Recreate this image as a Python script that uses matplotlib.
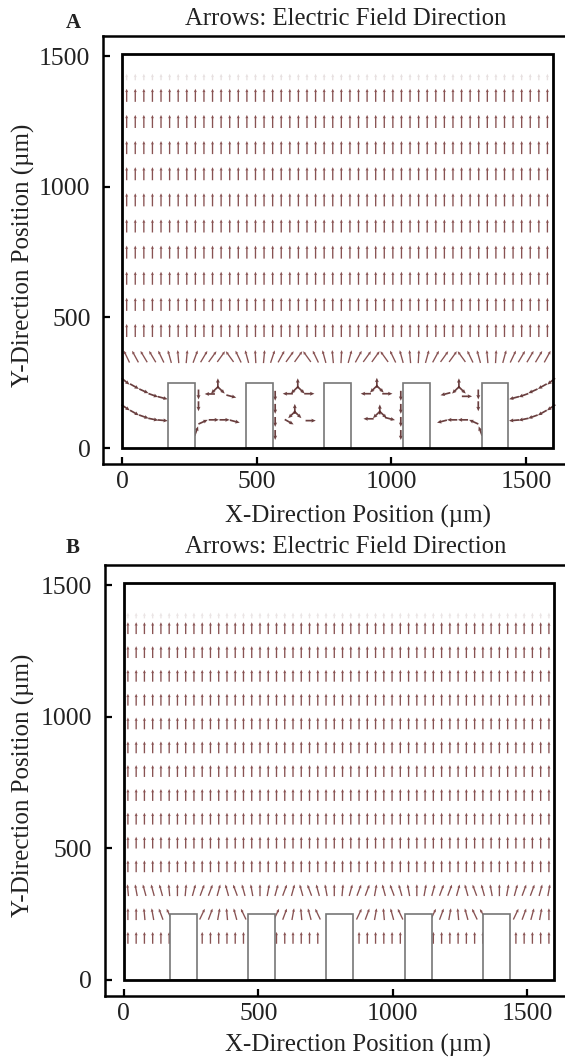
import numpy as np
import matplotlib
matplotlib.use("Agg")
import matplotlib.pyplot as plt
from matplotlib.patches import Rectangle

W, H, DPI = 565, 1057, 100
plt.rcParams['font.family'] = ['Liberation Serif', 'DejaVu Serif']

# ---------------- data ----------------
tick_values = [0, 500, 1000, 1500]
tick_labels = ['0', '500', '1000', '1500']
domain_w, domain_h = 1600, 1510
electrode_left = [171, 461, 751, 1045, 1335]
electrode_w, electrode_h = 100, 250

# Panel A : arrow grid
colsA = np.linspace(16, 1580, 50)
rowsA_vertical = [1350, 1250, 1150, 1050, 950, 850, 750, 650, 550, 450]
faint_row_A = 1420
fan_row_A = 350
fan_tilt_A = [25, 28, 30, 30, 25, 15, 5, -5, -20, -30,
              -35, -35, 35, 25, 15, 3, -5, -18, -28, -35,
              -35, 35, 25, 15, 5, -3, -15, -28, -35, -35,
              35, 25, 15, 5, -3, -15, -28, -35, -35, 35,
              25, 15, 5, -3, -15, -25, -30, -30, -30, -28]
# Panel A : arrows around the electrodes (x um, y um, angle deg)
nearA_x = [12, 45, 80, 115, 150, 12, 45, 80, 115, 150,
           283, 283, 275, 300, 340, 380, 418, 355, 343, 367, 325, 405,
           568, 568, 568, 568, 652, 640, 664, 615, 695, 641, 630, 652, 620, 700,
           946, 934, 958, 905, 985, 957, 945, 969, 915, 995, 1035, 1035, 1035, 1035,
           1323, 1323, 1331, 1306, 1266, 1226, 1188, 1251, 1239, 1263, 1201, 1281,
           1594, 1561, 1526, 1491, 1456, 1594, 1561, 1526, 1491, 1456]
nearA_y = [255, 236, 218, 202, 192, 155, 135, 120, 110, 106,
           205, 160, 65, 100, 108, 108, 102, 248, 222, 222, 207, 198,
           200, 150, 100, 50, 248, 222, 222, 208, 208, 150, 128, 128, 100, 105,
           250, 226, 226, 208, 208, 148, 128, 128, 112, 112, 200, 150, 100, 50,
           205, 160, 65, 100, 108, 108, 102, 248, 222, 222, 207, 198,
           255, 236, 218, 202, 192, 155, 135, 120, 110, 106]
nearA_ang = [-40, -30, -25, -20, -15, -35, -30, -20, -12, -5,
             -90, -90, 70, 25, 0, 0, -15, 90, 225, -45, 180, -15,
             -90, -90, -90, -90, 90, 225, -45, 180, 0, 90, 225, -45, -30, 0,
             90, 225, -45, 180, 0, 90, 225, -45, 180, -15, -90, -90, -90, -90,
             -90, -90, 110, 155, 180, 180, 195, 90, 225, -45, 195, 0,
             -140, -150, -155, -160, -165, -145, -150, -160, -168, -175]

# Panel B : arrow grid
colsB = np.linspace(15, 1580, 52)
rowsB_vertical = [1337, 1246, 1156, 1065, 975, 884, 794, 703, 613, 522, 432]
faint_row_B = 1385
fan_row_B = 341
fan_tilt_B = [5, 10, 15, 15, 15, 5, 0, -5, -15, -20,
              -20, -15, 15, 20, 15, 10, 0, -10, -15, -20,
              -15, 15, 20, 15, 10, 0, -5, -15, -20, -20,
              -10, 15, 20, 15, 10, 0, -10, -15, -20, -20,
              -15, 15, 20, 15, 10, 0, -10, -15, -20, -20,
              -15, -10]
gap_row_B_top = 250
n = np.nan
gap_tilt_B_top = [0, 0, 5, 10, 20, 25, n, n, n, -25,
                  -20, -10, 5, 15, 25, n, n, n, -25, -20,
                  -10, 5, 15, 25, n, n, n, n, -25, -20,
                  -10, 5, 15, 25, n, n, n, -25, -20, -10,
                  5, 15, 25, 30, n, n, n, -25, -20, -15,
                  -10, 0]
gap_row_B_low = 160
gap_tilt_B_low = [0, 0, 0, 0, 0, 0, n, n, n, 0,
                  0, 0, 0, 0, 0, n, n, n, 0, 0,
                  0, 0, 0, 0, n, n, n, n, 0, 0,
                  0, 0, 0, 0, n, n, n, 0, 0, 0,
                  0, 0, 0, 0, n, n, n, 0, 0, 0,
                  0, 0]

# ---------------- drawing ----------------
fig = plt.figure(figsize=(W / DPI, H / DPI), dpi=DPI)

ARROW_C = '#7b3f3f'
DARK_C = '#5a2a2a'
TEXT_C = '#222222'


def quiv(ax, xs, ys, ang_deg, length, color, alpha=1.0, width=0.0028):
    xs = np.asarray(xs, float)
    ys = np.asarray(ys, float)
    a = np.deg2rad(np.asarray(ang_deg, float))
    ok = ~np.isnan(a)
    u = length * np.cos(a[ok])
    v = length * np.sin(a[ok])
    ax.quiver(xs[ok], ys[ok], u, v, angles='xy', scale_units='xy', scale=1,
              pivot='middle', color=color, alpha=alpha, width=width,
              headwidth=2.3, headlength=2.6, headaxislength=2.3, zorder=3)


def panel(ax, label, title, title_y, label_y, xlabel_y, ylab_y):
    ax.set_xlim(-72, 1700)
    ax.set_ylim(-61, 1577)
    for s in ['left', 'top', 'bottom', 'right']:
        ax.spines[s].set_linewidth(1.8)
    ax.set_xticks(tick_values)
    ax.set_xticklabels(tick_labels)
    ax.set_yticks(tick_values)
    ax.set_yticklabels(tick_labels)
    ax.tick_params(direction='in', length=5, width=1.6, labelsize=18.5,
                   colors='black', labelcolor=TEXT_C)
    ax.tick_params(axis='x', pad=5)
    ax.tick_params(axis='y', pad=9)
    ax.add_patch(Rectangle((0, 0), domain_w, domain_h, fill=False,
                           lw=2.0, ec='black', zorder=6))
    for ex in electrode_left:
        ax.add_patch(Rectangle((ex, 0), electrode_w, electrode_h, fc='white',
                               ec='#777777', lw=1.2, zorder=4))
    fig.text(73 / W, 1 - label_y / H, label, fontsize=15, fontweight='bold',
             ha='center', va='baseline', color=TEXT_C)
    fig.text(346 / W, 1 - title_y / H, title, fontsize=17.8,
             ha='center', va='baseline', color=TEXT_C)
    fig.text(358 / W, 1 - xlabel_y / H, 'X-Direction Position (µm)', fontsize=18,
             ha='center', va='baseline', color=TEXT_C)
    fig.text(23 / W, 1 - ylab_y / H, 'Y-Direction Position (µm)', fontsize=18,
             ha='center', va='center', rotation=90, color=TEXT_C)


axA = fig.add_axes([103 / W, 1 - 464 / H, 476.7 / W, 428 / H])
panel(axA, 'A', 'Arrows: Electric Field Direction', 25, 28, 523, 255)
for ry in rowsA_vertical:
    quiv(axA, colsA, [ry] * len(colsA), [90] * len(colsA), 50, ARROW_C, 0.9)
quiv(axA, colsA, [faint_row_A] * len(colsA), [90] * len(colsA), 25, '#b09a9a', 0.3)
quiv(axA, colsA, [fan_row_A] * len(colsA), 90 + np.array(fan_tilt_A, float), 50, ARROW_C, 0.9)
quiv(axA, nearA_x, nearA_y, nearA_ang, 38, DARK_C, 0.9, width=0.0036)

axB = fig.add_axes([104.5 / W, 1 - 996 / H, 476.7 / W, 431 / H])
panel(axB, 'B', 'Arrows: Electric Field Direction', 553, 553, 1052, 785)
for ry in rowsB_vertical:
    quiv(axB, colsB, [ry] * len(colsB), [90] * len(colsB), 45, ARROW_C, 0.9)
quiv(axB, colsB, [faint_row_B] * len(colsB), [90] * len(colsB), 22, '#b09a9a', 0.25)
quiv(axB, colsB, [fan_row_B] * len(colsB), 90 + np.array(fan_tilt_B, float), 45, ARROW_C, 0.9)
quiv(axB, colsB, [gap_row_B_top] * len(colsB), 90 + np.array(gap_tilt_B_top, float), 45, ARROW_C, 0.9)
quiv(axB, colsB, [gap_row_B_low] * len(colsB), 90 + np.array(gap_tilt_B_low, float), 45, ARROW_C, 0.9)

fig.savefig('out.png', dpi=DPI)
